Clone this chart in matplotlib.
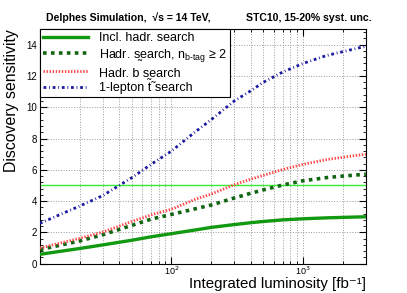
import numpy as np
import matplotlib.pyplot as plt
from matplotlib.ticker import FixedLocator, MultipleLocator, NullFormatter

plt.rcParams['font.family'] = ['Liberation Sans', 'DejaVu Sans']

# luminosity points [fb^-1]
lumi = [10, 20, 30, 50, 70, 100, 150, 200, 300, 400, 500, 700, 1000, 1500, 2000, 3000]

# discovery sensitivity
incl_hadr = [0.6, 0.97, 1.2, 1.5, 1.72, 1.92, 2.15, 2.32, 2.5, 2.62, 2.7, 2.8, 2.87, 2.93, 2.96, 3.0]
hadr_nb2 = [0.9, 1.45, 1.85, 2.45, 2.85, 3.15, 3.5, 3.75, 4.2, 4.5, 4.72, 5.03, 5.3, 5.5, 5.6, 5.72]
hadr_b = [1.0, 1.62, 2.02, 2.7, 3.12, 3.48, 4.1, 4.45, 5.05, 5.4, 5.65, 6.02, 6.35, 6.65, 6.8, 7.0]
lep1 = [2.58, 3.68, 4.35, 5.5, 6.35, 7.2, 8.4, 9.2, 10.4, 11.05, 11.6, 12.25, 12.8, 13.3, 13.55, 13.9]

fig = plt.figure(figsize=(4.07, 2.93), dpi=100)
ax = fig.add_axes([0.098, 0.100, 0.801, 0.801])

ax.axhline(5, color='#33ee33', lw=1.0, zorder=2)
ax.plot(lumi, incl_hadr, color='#119911', lw=2.4, label='Incl. hadr. search', zorder=3)
ax.plot(lumi, hadr_nb2, color='#116611', lw=2.6, ls=(0, (1, 1.2)),
        label='Hadr. s\u0330earch, n$_{\\mathregular{b\u2010tag}}$ \u2265 2', zorder=3)
ax.plot(lumi, hadr_b, color='#ff4444', lw=2.0, ls=(0, (0.5, 0.6)),
        label='Hadr. b s\u0330earch', zorder=3)
ax.plot(lumi, lep1, color='#1a1aa0', lw=2.0, ls=(0, (1, 1, 0.3, 1)),
        label='1-lepton t\u0303 search', zorder=3)

ax.set_xscale('log')
ax.set_xlim(10, 3000)
ax.set_ylim(0, 15)

ax.yaxis.set_major_locator(MultipleLocator(2))
ax.yaxis.set_minor_locator(MultipleLocator(0.4))
ax.xaxis.set_major_locator(FixedLocator([100, 1000]))
ax.xaxis.set_minor_locator(FixedLocator([20, 30, 40, 50, 60, 70, 80, 90,
                                         200, 300, 400, 500, 600, 700, 800, 900, 2000]))
ax.xaxis.set_minor_formatter(NullFormatter())
ax.set_xticklabels(['10$^{2}$', '10$^{3}$'])
ax.tick_params(which='both', direction='in', top=True, right=True, labelsize=7)
ax.tick_params(which='major', length=5)
ax.tick_params(which='minor', length=2.5)
ax.tick_params(axis='x', pad=0.5, labelsize=6.5)
ax.tick_params(axis='y', pad=2)

ax.grid(True, which='major', axis='y', color='#999999', ls=':', lw=0.7)
ax.grid(True, which='both', axis='x', color='#999999', ls=':', lw=0.7)

ax.set_ylabel('Discovery sensitivity', fontsize=11.4, loc='top', labelpad=5)
fig.text(366 / 407, 5 / 293, 'Integrated luminosity [fb\u207b\u00b9]',
         fontsize=10.8, ha='right', va='baseline')

leg = ax.legend(loc='upper left', bbox_to_anchor=(0.0, 1.0), fontsize=9.0,
                frameon=True, fancybox=False, edgecolor='black', framealpha=1,
                borderaxespad=0, handlelength=3.6, handletextpad=0.85,
                labelspacing=0.22, borderpad=0.25)
leg.get_frame().set_linewidth(0.8)
leg.set_zorder(5)

fig.text(0.113, 0.928, 'Delphes Simulation,  \u221as = 14 TeV,', fontsize=7.6,
         fontweight='bold')
fig.text(0.914, 0.928, 'STC10, 15-20% syst. unc.', fontsize=7.6,
         fontweight='bold', ha='right')

fig.savefig('out.png', dpi=100)
